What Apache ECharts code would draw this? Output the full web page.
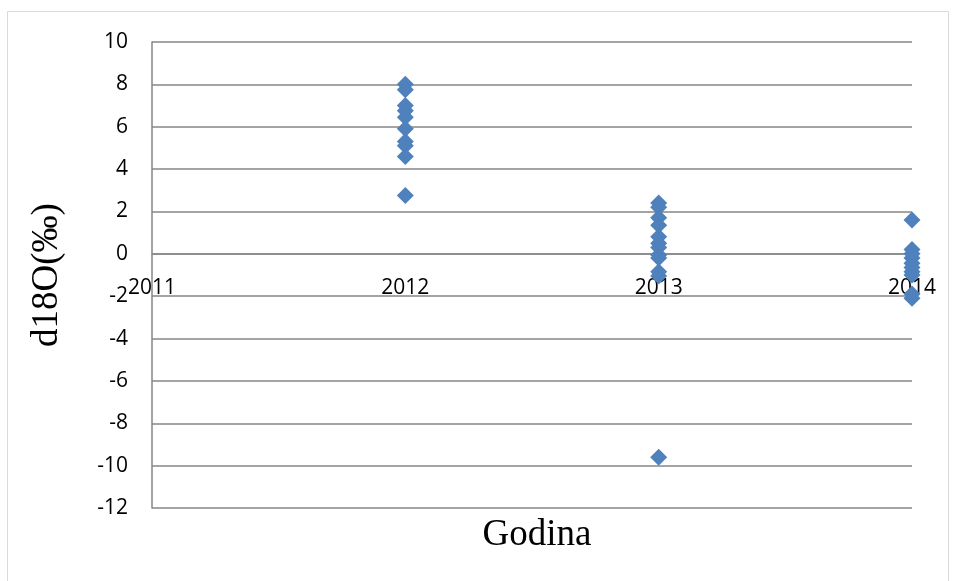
<!DOCTYPE html>
<html>
<head>
<meta charset="utf-8">
<title>d18O</title>
<script src="https://cdn.jsdelivr.net/npm/echarts@6/dist/echarts.min.js"></script>
<style>
  html, body { margin: 0; padding: 0; background: #fff; }
  #chart { width: 955px; height: 581px; }
</style>
</head>
<body>
<div id="chart"></div>
<script>
// values, one list per year
var years = [2012, 2013, 2014];
var d2012 = [8.0, 7.75, 7.0, 6.75, 6.45, 5.9, 5.3, 5.1, 4.6, 2.75];
var d2013 = [2.4, 2.2, 1.7, 1.35, 0.8, 0.5, 0.3, -0.05, -0.2, -0.85, -1.05, -9.6];
var d2014 = [1.6, 0.2, 0.0, -0.2, -0.45, -0.65, -0.85, -1.0, -1.9, -2.1];
var xTicks = [2011, 2012, 2013, 2014];
var yMin = -12, yMax = 10;

var points = [];
[d2012, d2013, d2014].forEach(function (vals, i) {
  vals.forEach(function (v) { points.push([years[i], v]); });
});

var gridTop = 42, gridBottom = 73, H = 581;
// x axis crosses the y axis at 0 (Excel style)
var zeroOffset = -(H - gridTop - gridBottom) * (0 - yMin) / (yMax - yMin);

var chart = echarts.init(document.getElementById('chart'));
chart.setOption({
  animation: false,
  grid: { left: 152, right: 43, top: gridTop, bottom: gridBottom },
  graphic: [{
    type: 'rect',
    shape: { x: 7.5, y: 11.5, width: 941, height: 580 },
    style: { fill: 'none', stroke: '#d9d9d9', lineWidth: 1 }
  }],
  title: {
    text: 'Godina',
    left: 532, top: 512,
    textAlign: 'center',
    textStyle: { fontFamily: 'Liberation Serif', fontSize: 37, fontWeight: 'normal', color: '#000' }
  },
  xAxis: {
    type: 'value',
    position: 'bottom',
    offset: zeroOffset,
    min: xTicks[0], max: xTicks[xTicks.length - 1], interval: 1,
    axisLine: { onZero: false, lineStyle: { color: '#868686', width: 1.5 } },
    axisTick: { show: false },
    splitLine: { show: false },
    axisLabel: {
      margin: 24, fontFamily: 'Open Sans', fontSize: 21, color: '#000',
      formatter: function (v) { return String(v); }
    }
  },
  yAxis: {
    type: 'value',
    min: yMin, max: yMax, interval: 2,
    name: 'd18O(‰)',
    nameLocation: 'middle',
    nameGap: 86,
    nameTextStyle: { fontFamily: 'Liberation Serif', fontSize: 37, color: '#000' },
    axisLine: { show: true, onZero: false, lineStyle: { color: '#868686', width: 1.5 } },
    axisTick: { show: false },
    splitLine: { lineStyle: { color: '#868686', width: 1.5 } },
    axisLabel: { margin: 24, fontFamily: 'Open Sans', fontSize: 21, color: '#000' }
  },
  series: [{
    type: 'scatter',
    symbol: 'diamond',
    symbolSize: 17,
    itemStyle: { color: '#4f81bd', opacity: 1 },
    data: points
  }]
});
</script>
</body>
</html>
